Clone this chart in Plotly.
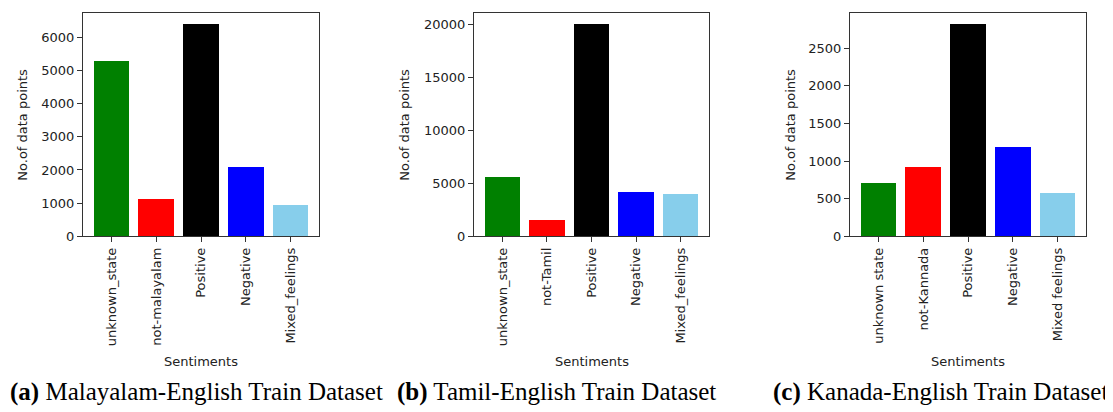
import plotly.graph_objects as go

cats_a = ["unknown_state", "not-malayalam", "Positive", "Negative", "Mixed_feelings"]
cats_b = ["unknown_state", "not-Tamil", "Positive", "Negative", "Mixed_feelings"]
cats_c = ["unknown state", "not-Kannada", "Positive", "Negative", "Mixed feelings"]
vals_a = [5290, 1140, 6405, 2080, 940]
vals_b = [5610, 1600, 20130, 4220, 4040]
vals_c = [707, 918, 2828, 1194, 578]
colors = ["#008000", "#FF0000", "#000000", "#0000FF", "#87CEEB"]
captions = ["<b>(a)</b> Malayalam-English Train Dataset",
            "<b>(b)</b> Tamil-English Train Dataset",
            "<b>(c)</b> Kanada-English Train Dataset"]
dticks = [1000, 5000, 500]

W, H = 1113, 412
panels = [
    dict(cats=cats_a, vals=vals_a, x0=75, x1=311, ylab_x=15, cap_x=0),
    dict(cats=cats_b, vals=vals_b, x0=466, x1=701, ylab_x=397, cap_x=387),
    dict(cats=cats_c, vals=vals_c, x0=842, x1=1078, ylab_x=783, cap_x=763),
]
top, bottom = 5, 233

fig = go.Figure()
font = dict(family="DejaVu Sans", size=13, color="#222")
annotations = []
for i, p in enumerate(panels):
    n = i + 1
    xa = "x" if n == 1 else f"x{n}"
    ya = "y" if n == 1 else f"y{n}"
    fig.add_trace(go.Bar(x=list(range(len(p["cats"]))), y=p["vals"], width=0.8,
                         marker=dict(color=colors, line=dict(width=0)),
                         xaxis=xa, yaxis=ya, showlegend=False))
    axx = dict(domain=[p["x0"] / W, p["x1"] / W], anchor=ya,
               range=[-0.64, len(p["cats"]) - 1 + 0.64],
               tickmode="array", tickvals=list(range(len(p["cats"]))), ticktext=p["cats"],
               tickangle=-90, ticks="outside", ticklen=5, tickcolor="#333",
               showline=True, linecolor="#333", linewidth=1, mirror=True,
               showgrid=False, zeroline=False, tickfont=font, fixedrange=True)
    axy = dict(domain=[(H - bottom) / H, (H - top) / H], anchor=xa,
               range=[0, max(p["vals"]) * 1.05], dtick=dticks[i], tick0=0, tickformat="d",
               ticks="outside", ticklen=5, tickcolor="#333",
               showline=True, linecolor="#333", linewidth=1, mirror=True,
               showgrid=False, zeroline=False, tickfont=font, fixedrange=True)
    fig.update_layout(**{("xaxis" if n == 1 else f"xaxis{n}"): axx,
                         ("yaxis" if n == 1 else f"yaxis{n}"): axy})
    annotations.append(dict(text="No.of data points", x=p["ylab_x"] / W, y=(H - (top + bottom) / 2) / H,
                            xref="paper", yref="paper", textangle=-90, showarrow=False,
                            font=font, xanchor="center", yanchor="middle"))
    annotations.append(dict(text="Sentiments", x=(p["x0"] + p["x1"]) / 2 / W, y=(H - 361) / H,
                            xref="paper", yref="paper", showarrow=False,
                            font=font, xanchor="center", yanchor="middle"))
    annotations.append(dict(text=captions[i], x=p["cap_x"] / W, y=(H - 392) / H,
                            xref="paper", yref="paper", showarrow=False,
                            font=dict(family="Liberation Serif", size=25, color="#000"),
                            xanchor="left", yanchor="middle"))

fig.update_layout(width=W, height=H, margin=dict(l=0, r=0, t=0, b=0),
                  paper_bgcolor="white", plot_bgcolor="white",
                  annotations=annotations, bargap=0)
fig.write_html("out.html")
